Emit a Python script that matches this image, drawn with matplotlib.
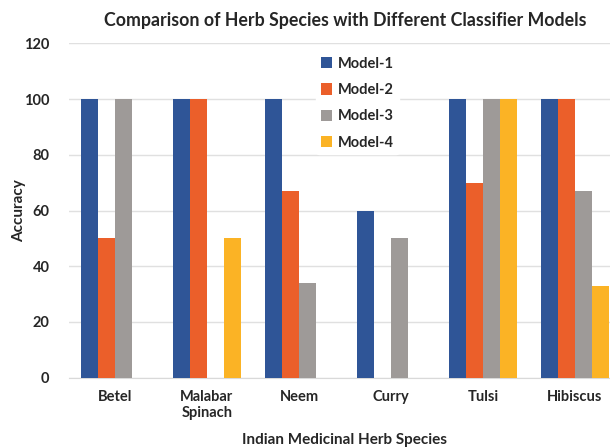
import numpy as np
import matplotlib
matplotlib.use("Agg")
import matplotlib.pyplot as plt

species = ["Betel", "Malabar\nSpinach", "Neem", "Curry", "Tulsi", "Hibiscus"]
models = ["Model-1", "Model-2", "Model-3", "Model-4"]
model1 = [100, 100, 100, 60, 100, 100]
model2 = [50, 100, 67, 0, 70, 100]
model3 = [100, 0, 34, 50, 100, 67]
model4 = [0, 50, 0, 0, 100, 33]
yticks = [0, 20, 40, 60, 80, 100, 120]

colors = ["#2F5597", "#EB5F2A", "#9E9A98", "#FBB325"]

plt.rcParams["font.family"] = ["Lato", "DejaVu Sans"]

fig = plt.figure(figsize=(6.1, 4.47), dpi=100)
# plot area runs a bit past the right edge, like the cropped original
ax = fig.add_axes([0.113, 0.155, 0.905, 0.748])

x = np.arange(len(species))
w = 0.185
series = [model1, model2, model3, model4]
for i, vals in enumerate(series):
    ax.bar(x + (i - 1.5) * w, vals, width=w, color=colors[i], label=models[i], zorder=3)

ax.set_xlim(-0.5, len(species) - 0.5)
ax.set_ylim(0, 120)
ax.set_yticks(yticks)
ax.set_xticks(x)
ax.set_xticklabels(species)
ax.yaxis.grid(True, color="#E0E0E0", linewidth=1, zorder=0)
for s in ["top", "right", "left"]:
    ax.spines[s].set_visible(False)
ax.spines["bottom"].set_color("#D9D9D9")
ax.tick_params(length=0, labelsize=10.5, colors="#262626")
ax.tick_params(axis="x", pad=9)
ax.tick_params(axis="y", pad=14)
for lab in ax.get_xticklabels() + ax.get_yticklabels():
    lab.set_fontweight("bold")

ax.set_ylabel("Accuracy", fontsize=11, fontweight="bold", color="#262626")
ax.yaxis.set_label_coords(-0.078, 0.5)
ax.set_xlabel("Indian Medicinal Herb Species", fontsize=11, fontweight="bold",
              color="#262626", labelpad=9)
fig.text(0.566, 0.955, "Comparison of Herb Species with Different Classifier Models",
         ha="center", va="center", fontsize=12.8, fontweight="bold", color="#262626")

leg = ax.legend(loc="upper left", bbox_to_anchor=(0.435, 0.995), frameon=True,
                fontsize=10.5, handlelength=0.8, handleheight=0.8, labelspacing=0.85,
                handletextpad=0.4, borderpad=0.3)
leg.get_frame().set_edgecolor("white")
leg.get_frame().set_facecolor("white")
leg.get_frame().set_alpha(1)
for t in leg.get_texts():
    t.set_fontweight("bold")
    t.set_color("#262626")

fig.savefig("out.png", dpi=100)
